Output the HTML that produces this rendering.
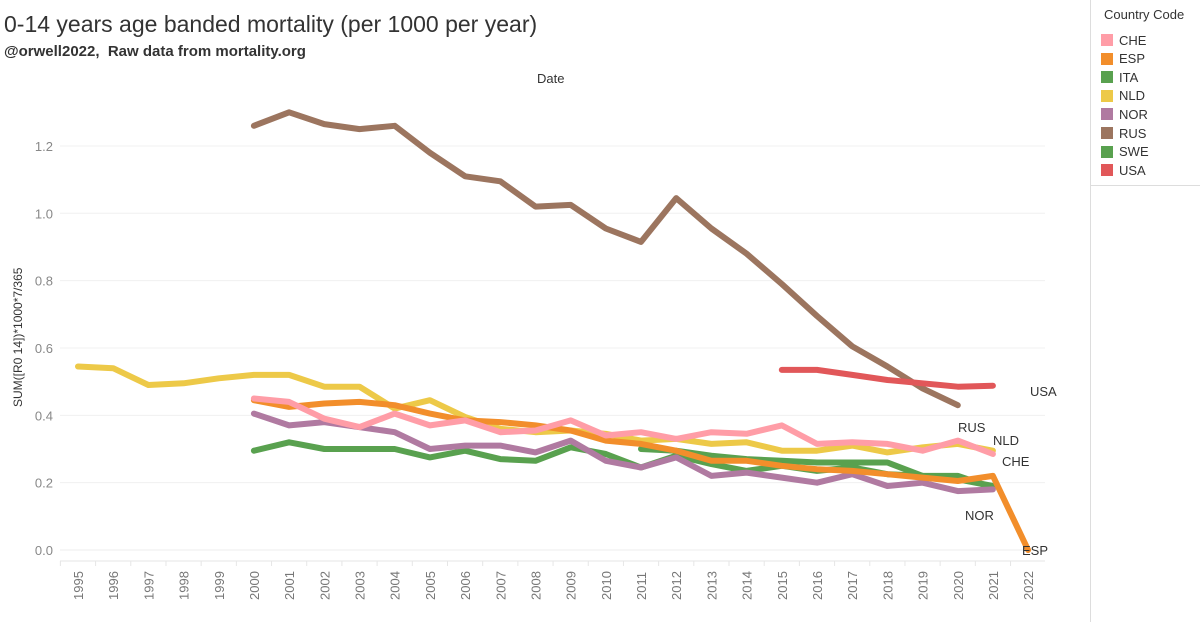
<!DOCTYPE html>
<html><head><meta charset="utf-8"><style>
body{margin:0;width:1200px;height:622px;background:#fff;font-family:"Liberation Sans",sans-serif;overflow:hidden;position:relative}
.t{position:absolute;white-space:nowrap}
</style></head><body>
<div class="t" style="left:4px;top:11px;font-size:23px;color:#333">0-14 years age banded mortality (per 1000 per year)</div>
<div class="t" style="left:4px;top:43px;font-size:15px;font-weight:bold;color:#333">@orwell2022,&nbsp; Raw data from mortality.org</div>
<div class="t" style="left:537px;top:71px;font-size:13px;color:#333">Date</div>
<div style="position:absolute;left:1090px;top:0;width:110px;height:622px;border-left:1px solid #ddd;background:#fff">
<div style="position:absolute;left:0;top:0;width:109px;height:185px;border-right:1px solid #ddd;border-bottom:1px solid #ddd"></div>
<div class="t" style="left:13px;top:7px;font-size:13px;color:#333">Country Code</div>
<div id="leg"></div>
</div>
<svg id="c" width="1085" height="622" style="position:absolute;left:0;top:0"></svg>
<script>
const years=[];for(let y=1995;y<=2022;y++)years.push(y);
const yTicks=[0,0.2,0.4,0.6,0.8,1.0,1.2];
const names=["CHE","ESP","ITA","NLD","NOR","RUS","SWE","USA"];
const colors=["#ff9da7","#f28e2b","#59a14f","#edc948","#b07aa1","#9c755f","#59a14f","#e15759"];
const starts=[2000,2000,2000,1995,2000,2000,2011,2015];
const CHE=[0.45,0.44,0.39,0.365,0.405,0.37,0.385,0.35,0.355,0.385,0.34,0.35,0.33,0.35,0.345,0.37,0.315,0.32,0.315,0.295,0.325,0.285];
const ESP=[0.445,0.425,0.435,0.44,0.43,0.405,0.385,0.38,0.37,0.355,0.325,0.315,0.295,0.265,0.265,0.25,0.24,0.235,0.225,0.215,0.205,0.22,0.0];
const ITA=[0.295,0.32,0.3,0.3,0.3,0.275,0.295,0.27,0.265,0.305,0.285,0.245,0.28,0.255,0.235,0.25,0.235,0.245,0.225,0.22,0.22,0.185];
const NLD=[0.545,0.54,0.49,0.495,0.51,0.52,0.52,0.485,0.485,0.42,0.445,0.395,0.36,0.35,0.355,0.345,0.325,0.33,0.315,0.32,0.295,0.295,0.31,0.29,0.305,0.315,0.295];
const NOR=[0.405,0.37,0.38,0.365,0.35,0.3,0.31,0.31,0.29,0.325,0.265,0.245,0.275,0.22,0.23,0.215,0.2,0.225,0.19,0.2,0.175,0.18];
const RUS=[1.26,1.3,1.265,1.25,1.26,1.18,1.11,1.095,1.02,1.025,0.955,0.915,1.045,0.955,0.88,0.79,0.695,0.605,0.545,0.48,0.43];
const SWE=[0.3,0.295,0.28,0.27,0.265,0.26,0.26,0.26,0.22,0.21,0.19];
const USA=[0.535,0.535,0.52,0.505,0.495,0.485,0.488];
const series=[CHE,ESP,ITA,NLD,NOR,RUS,SWE,USA];
const drawOrder=[3,2,6,4,1,0,5,7];
const labels={USA:[1030,396],RUS:[958,432],NLD:[993,445],CHE:[1002,466],NOR:[965,520],ESP:[1022,555]};
const X=y=>78+(y-1995)*35.19, Y=v=>550-v*336.7;
const svg=document.getElementById('c'),NS="http://www.w3.org/2000/svg";
function mk(t,a){const e=document.createElementNS(NS,t);for(const k in a)e.setAttribute(k,a[k]);svg.appendChild(e);return e;}
yTicks.forEach(v=>{
 const g=mk('line',{x1:60,x2:1045,y1:Y(v),y2:Y(v),stroke:v===0?'#eee':'#f0f0f0','stroke-width':1});
 
 
 const t=mk('text',{x:53,y:Y(v)+5,'text-anchor':'end','font-size':13,fill:'#888','font-family':'Liberation Sans'});
 t.textContent=v.toFixed(1);
 
 
});
mk('line',{x1:60,x2:1045,y1:561,y2:561,stroke:'#e6e6e6'});
years.forEach(y=>{
 const x=X(y);
 mk('line',{x1:x-17.6,x2:x-17.6,y1:561,y2:566,stroke:'#e6e6e6'});
 const t=mk('text',{x:0,y:0,transform:`translate(${x+5},${600}) rotate(-90)`,'font-size':13,fill:'#777','font-family':'Liberation Sans'});
 t.textContent=y;
 
 
});
const yt=mk('text',{x:0,y:0,transform:'translate(22,407) rotate(-90)','font-size':12,fill:'#333','font-family':'Liberation Sans'});
yt.textContent='SUM([R0 14])*1000*7/365';


drawOrder.forEach(i=>{
 const d=series[i].map((v,k)=>`${k?'L':'M'}${X(starts[i]+k).toFixed(1)},${Y(v).toFixed(1)}`).join('');
 const p=mk('path',{d:d,fill:'none',stroke:colors[i],'stroke-width':6,'stroke-linejoin':'round','stroke-linecap':'round'});
 
 
});
for(const n in labels){
 const t=mk('text',{x:labels[n][0],y:labels[n][1],'font-size':13,fill:'#333','font-family':'Liberation Sans'});
 t.textContent=n;
 
 
}
const leg=document.getElementById('leg');
names.forEach((n,i)=>{
 const r=document.createElement('div');
 
 
 r.style.cssText=`position:absolute;left:10px;top:${32+i*18.6}px;height:16px;font-size:13px;color:#333;display:flex;align-items:center`;
 r.innerHTML=`<span style="display:inline-block;width:12px;height:12px;background:${colors[i]};margin-right:6px"></span>${n}`;
 leg.appendChild(r);
});
</script>
</body></html>
